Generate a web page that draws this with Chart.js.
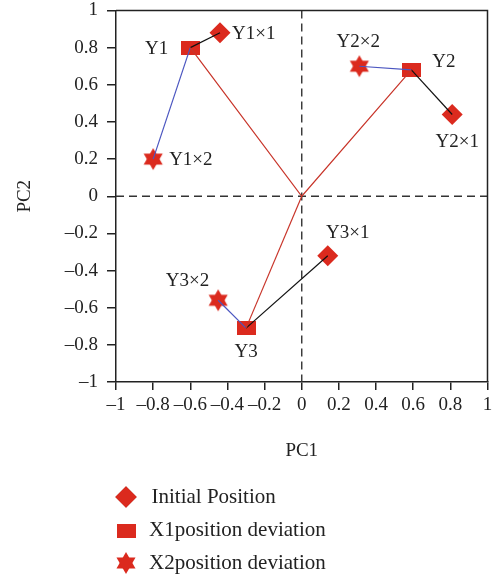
<!DOCTYPE html>
<html>
<head>
<meta charset="utf-8">
<script src="https://cdn.jsdelivr.net/npm/chart.js@4.4.0/dist/chart.umd.min.js"></script>
<style>
  html, body { margin: 0; padding: 0; background: #fff; }
  #wrap { width: 498px; height: 581px; }
</style>
</head>
<body>
<div id="wrap"><canvas id="pca"></canvas></div>
<script>
const groups = ['Y1', 'Y2', 'Y3'];
const initialX = [-0.44, 0.81, 0.14];
const initialY = [0.88, 0.44, -0.32];
const x1X = [-0.6, 0.59, -0.3];
const x1Y = [0.8, 0.68, -0.71];
const x2X = [-0.8, 0.31, -0.45];
const x2Y = [0.2, 0.7, -0.56];
const originX = 0;
const originY = 0;
const tickValues = [-1, -0.8, -0.6, -0.4, -0.2, 0, 0.2, 0.4, 0.6, 0.8, 1];
const seriesNames = ['Initial Position', 'X1position deviation', 'X2position deviation'];

const RED = '#db2a1e';
const INK = '#222';
const FONT = 'Liberation Serif';

function makeRect(w, h, color) {
  const c = document.createElement('canvas');
  c.width = w; c.height = h;
  const g = c.getContext('2d');
  g.fillStyle = color;
  g.fillRect(0, 0, w, h);
  return c;
}

function makeStar(r, color) {
  const size = Math.ceil(r * 2) + 2;
  const c = document.createElement('canvas');
  c.width = size; c.height = size;
  const g = c.getContext('2d');
  g.fillStyle = color;
  const cx = size / 2, cy = size / 2;
  for (let k = 0; k < 2; k++) {
    g.beginPath();
    for (let j = 0; j < 3; j++) {
      const a = -Math.PI / 2 + k * Math.PI + j * 2 * Math.PI / 3;
      const px = cx + r * Math.cos(a), py = cy + r * Math.sin(a);
      if (j) g.lineTo(px, py); else g.moveTo(px, py);
    }
    g.closePath();
    g.fill();
  }
  return c;
}

const rectImg = makeRect(19, 14, RED);
const starImg = makeStar(11, RED);

const pts = (xs, ys) => xs.map((x, i) => ({x: x, y: ys[i]}));
const initialPts = pts(initialX, initialY);
const x1Pts = pts(x1X, x1Y);
const x2Pts = pts(x2X, x2Y);
const origin = {x: originX, y: originY};

function seg(data, color) {
  return {
    data: data,
    showLine: true,
    borderColor: color,
    borderWidth: 1.2,
    pointRadius: 0,
    order: 0
  };
}

const datasets = [
  {label: seriesNames[0], data: initialPts, pointStyle: 'rectRot', pointRadius: 10.5,
   backgroundColor: RED, borderWidth: 0, order: 1,
   pointLabels: groups.map(g => g + '×1')},
  {label: seriesNames[1], data: x1Pts, pointStyle: rectImg,
   backgroundColor: RED, borderWidth: 0, order: 1,
   pointLabels: groups.slice()},
  {label: seriesNames[2], data: x2Pts, pointStyle: starImg,
   backgroundColor: RED, borderWidth: 0, order: 1,
   pointLabels: groups.map(g => g + '×2')}
];

// red lines from the origin to every X1 position
datasets.push(seg([x1Pts[0], origin, x1Pts[1]], '#c8352a'));
datasets.push(seg([origin, x1Pts[2]], '#c8352a'));
groups.forEach((g, i) => {
  datasets.push(seg([x1Pts[i], initialPts[i]], '#111'));
  datasets.push(seg([x1Pts[i], x2Pts[i]], '#4a55c0'));
});

// label placement around each marker: [dx, dy, align]
const labelPlace = [
  [[12, 1, 'left'], [5, 27, 'center'], [20, -23, 'center']],
  [[-22, 1, 'right'], [21, -8, 'left'], [0, 24, 'center']],
  [[16, 1, 'left'], [-1, -24, 'center'], [-9, -19, 'right']]
];

const fmt = v => v === 0 ? '0' : String(Math.round(v * 10) / 10).replace('-', '–');

const decorations = {
  id: 'decorations',
  beforeDatasetsDraw(chart) {
    const {ctx, chartArea: a, scales: {x, y}} = chart;
    const x0 = x.getPixelForValue(originX), y0 = y.getPixelForValue(originY);
    ctx.save();
    ctx.strokeStyle = '#333';
    ctx.lineWidth = 1.4;
    ctx.setLineDash([8, 5]);
    ctx.beginPath();
    ctx.moveTo(a.left, y0); ctx.lineTo(a.right, y0);
    ctx.moveTo(x0, a.top); ctx.lineTo(x0, a.bottom);
    ctx.stroke();
    ctx.setLineDash([]);
    ctx.strokeStyle = INK;
    ctx.lineWidth = 1.5;
    ctx.beginPath();
    ctx.moveTo(a.left, a.top); ctx.lineTo(a.right, a.top); ctx.lineTo(a.right, a.bottom);
    ctx.stroke();
    ctx.restore();
  },
  afterDraw(chart) {
    const {ctx} = chart;
    ctx.save();
    ctx.fillStyle = INK;
    ctx.font = '19px "' + FONT + '"';
    ctx.textBaseline = 'middle';
    for (let d = 0; d < 3; d++) {
      const meta = chart.getDatasetMeta(d);
      const labels = chart.data.datasets[d].pointLabels;
      meta.data.forEach((el, i) => {
        const [dx, dy, align] = labelPlace[d][i];
        ctx.textAlign = align;
        ctx.fillText(labels[i], el.x + dx, el.y + dy);
      });
    }
    // legend
    const rows = [497, 530.5, 563];
    ctx.textAlign = 'left';
    ctx.font = '21px "' + FONT + '"';
    for (let d = 0; d < 3; d++) {
      const ds = chart.data.datasets[d];
      Chart.helpers.drawPoint(ctx, {
        pointStyle: ds.pointStyle, radius: ds.pointRadius || 10, rotation: 0,
        borderWidth: 0
      }, 126, rows[d]);
      ctx.fillStyle = RED;
      ctx.fill();
      ctx.fillStyle = INK;
      ctx.fillText(ds.label, d === 0 ? 151.5 : 149, rows[d]);
    }
    ctx.restore();
  }
};

const tickFont = {family: FONT, size: 19, lineHeight: 1};

new Chart(document.getElementById('pca'), {
  type: 'scatter',
  data: {datasets: datasets},
  plugins: [decorations],
  options: {
    responsive: true,
    maintainAspectRatio: false,
    animation: false,
    events: [],
    layout: {padding: {top: 9, right: 8, bottom: 119, left: 0}},
    plugins: {legend: {display: false}, tooltip: {enabled: false}},
    scales: {
      x: {
        min: -1, max: 1,
        afterFit: s => { s.height = 80; s.paddingLeft = 0; s.paddingRight = 0; },
        afterBuildTicks: s => { s.ticks = tickValues.map(v => ({value: v})); },
        ticks: {callback: fmt, color: INK, font: tickFont, padding: 6, maxRotation: 0, autoSkip: false},
        grid: {drawOnChartArea: false, drawTicks: true, tickLength: 8, color: INK, lineWidth: 1.5},
        border: {display: true, color: INK, width: 1.5},
        title: {display: true, text: 'PC1', color: INK, font: {family: FONT, size: 19}, padding: {top: 0, bottom: 0}}
      },
      y: {
        min: -1, max: 1,
        afterFit: s => { s.width = 116; s.paddingTop = 0; s.paddingBottom = 0; },
        afterBuildTicks: s => { s.ticks = tickValues.map(v => ({value: v})); },
        ticks: {callback: fmt, color: INK, font: tickFont, padding: 9, autoSkip: false},
        grid: {drawOnChartArea: false, drawTicks: true, tickLength: 9, color: INK, lineWidth: 1.5},
        border: {display: true, color: INK, width: 1.5},
        title: {display: true, text: 'PC2', color: INK, font: {family: FONT, size: 19}, padding: {top: 14, bottom: 0}}
      }
    }
  }
});
</script>
</body>
</html>
